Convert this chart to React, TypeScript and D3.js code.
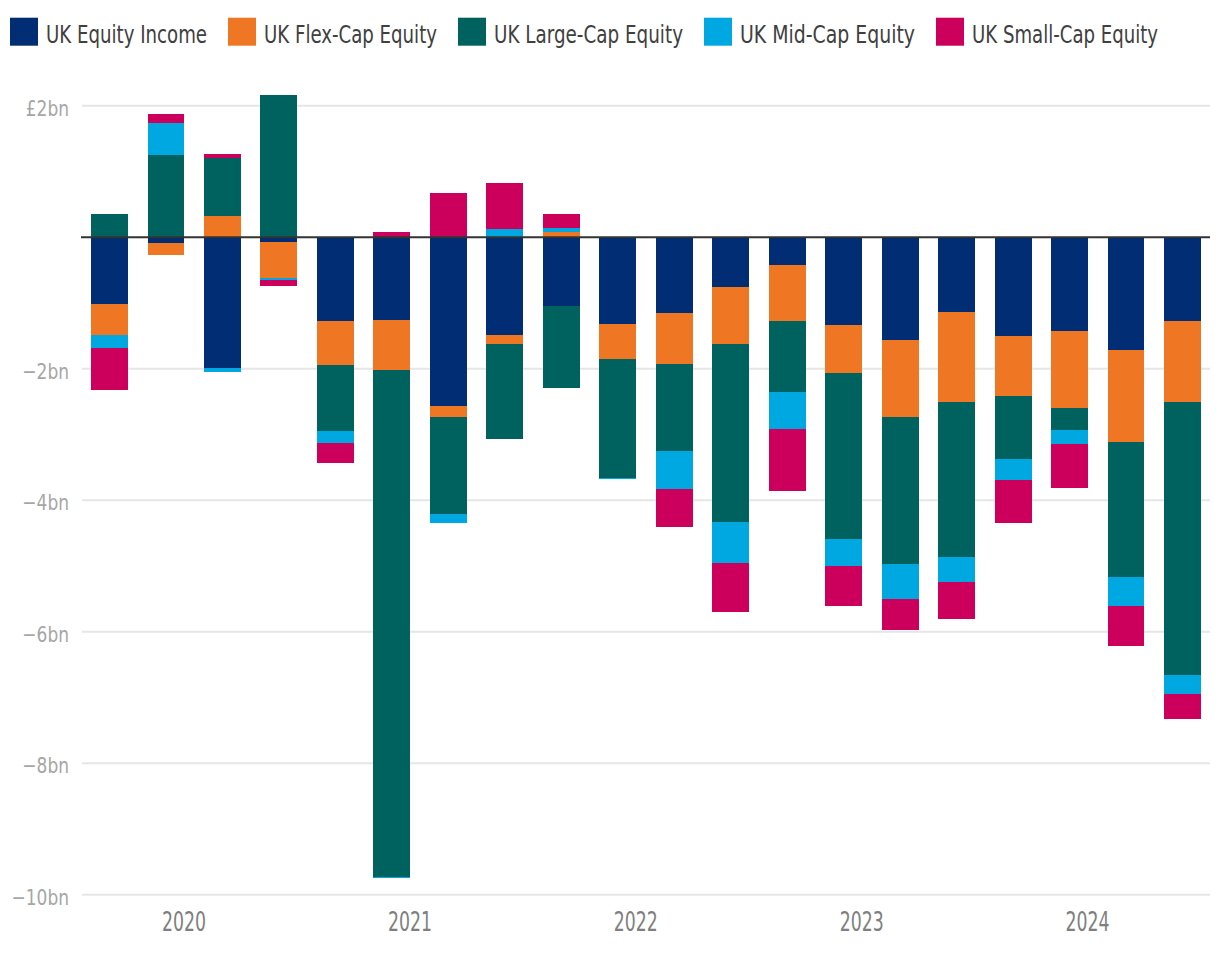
import React, { useEffect, useRef } from "react";
import * as d3 from "d3";

const quarters = [
  "2020 Q1", "2020 Q2", "2020 Q3", "2020 Q4",
  "2021 Q1", "2021 Q2", "2021 Q3", "2021 Q4",
  "2022 Q1", "2022 Q2", "2022 Q3", "2022 Q4",
  "2023 Q1", "2023 Q2", "2023 Q3", "2023 Q4",
  "2024 Q1", "2024 Q2", "2024 Q3", "2024 Q4",
];
const years = ["2020", "2021", "2022", "2023", "2024"];

const seriesNames = [
  "UK Equity Income",
  "UK Flex-Cap Equity",
  "UK Large-Cap Equity",
  "UK Mid-Cap Equity",
  "UK Small-Cap Equity",
];
const seriesColors = ["#002d73", "#ef7724", "#00625e", "#00a8e1", "#cc005c"];

// £bn estimated flows
const equityIncome = [-1.01, -0.09, -1.99, -0.08, -1.27, -1.255, -2.573, -1.48, -1.04, -1.315, -1.147, -0.75, -0.43, -1.33, -1.558, -1.145, -1.497, -1.422, -1.71, -1.268];
const flexCap = [-0.47, -0.18, 0.315, -0.54, -0.67, -0.76, -0.167, -0.137, 0.086, -0.53, -0.777, -0.868, -0.838, -0.731, -1.173, -1.369, -0.911, -1.183, -1.412, -1.231];
const largeCap = [0.36, 1.245, 0.89, 2.16, -1.003, -7.716, -1.474, -1.459, -1.261, -1.81, -1.325, -2.71, -1.08, -2.528, -2.238, -2.355, -0.959, -0.32, -2.051, -4.161];
const midCap = [-0.2, 0.49, -0.06, -0.035, -0.182, -0.015, -0.137, 0.13, 0.05, -0.015, -0.579, -0.624, -0.563, -0.411, -0.533, -0.378, -0.33, -0.213, -0.437, -0.288];
const smallCap = [-0.64, 0.14, 0.056, -0.09, -0.304, 0.086, 0.665, 0.69, 0.21, 0, -0.579, -0.746, -0.944, -0.609, -0.472, -0.565, -0.655, -0.682, -0.613, -0.384];

const yTicks = [2, -2, -4, -6, -8, -10];
const yTickLabels = ["£2bn", "\u22122bn", "\u22124bn", "\u22126bn", "\u22128bn", "\u221210bn"];

// rendered widths of legend labels (condensed typeface look)
const legendTextWidths = [161, 173, 189, 175, 186];

const FONT = "'DejaVu Sans Condensed', 'DejaVu Sans', sans-serif";

export default function App() {
  const ref = useRef<SVGSVGElement | null>(null);

  useEffect(() => {
    const svg = d3.select(ref.current);
    svg.selectAll("*").remove();

    const left = 82;
    const right = 1210;

    const rows = quarters.map((q, i) => ({
      q,
      s0: equityIncome[i],
      s1: flexCap[i],
      s2: largeCap[i],
      s3: midCap[i],
      s4: smallCap[i],
    }));
    const keys = ["s0", "s1", "s2", "s3", "s4"];

    const x = d3.scaleBand<string>().domain(quarters).range([left, right]).paddingInner(0.345).paddingOuter(0.16);
    const y = d3.scaleLinear().domain([-10, 2]).range([894.7, 105.7]);

    // gridlines
    const g = svg.append("g");
    g.selectAll("line.grid")
      .data(yTicks)
      .enter()
      .append("line")
      .attr("x1", left)
      .attr("x2", right)
      .attr("y1", (d) => y(d))
      .attr("y2", (d) => y(d))
      .attr("stroke", "#e6e6e6")
      .attr("stroke-width", 2);

    g.selectAll("text.ylab")
      .data(yTicks)
      .enter()
      .append("text")
      .attr("x", 69)
      .attr("y", (d) => y(d) + 10)
      .attr("text-anchor", "end")
      .attr("font-family", FONT)
      .attr("font-size", 21)
      .attr("fill", "#a6a6a6")
      .text((d, i) => yTickLabels[i])
      .each(function () {
        const el = this as SVGTextElement;
        const len = el.getComputedTextLength();
        el.setAttribute("textLength", String(len * 0.9));
        el.setAttribute("lengthAdjust", "spacingAndGlyphs");
      });

    // bars
    const stacked = d3.stack<any>().keys(keys).offset(d3.stackOffsetDiverging)(rows);
    const bw = x.bandwidth();
    stacked.forEach((layer, li) => {
      svg
        .append("g")
        .attr("fill", seriesColors[li])
        .selectAll("rect")
        .data(layer)
        .enter()
        .append("rect")
        .attr("x", (d: any) => x(d.data.q) as number)
        .attr("width", bw)
        .attr("y", (d: any) => y(Math.max(d[0], d[1])))
        .attr("height", (d: any) => Math.abs(y(d[0]) - y(d[1])))
        .attr("shape-rendering", "crispEdges");
    });

    // zero line
    svg
      .append("line")
      .attr("x1", left - 1)
      .attr("x2", right)
      .attr("y1", y(0))
      .attr("y2", y(0))
      .attr("stroke", "#333333")
      .attr("stroke-width", 2);

    // year labels
    const step = x.step();
    svg
      .selectAll("text.year")
      .data(years)
      .enter()
      .append("text")
      .attr("x", (d, i) => {
        const a = x(quarters[i * 4]) as number;
        const b = (x(quarters[i * 4 + 3]) as number) + bw;
        return (a + b) / 2 - 0.18 * step;
      })
      .attr("y", 931)
      .attr("text-anchor", "middle")
      .attr("font-family", FONT)
      .attr("font-size", 26)
      .attr("fill", "#7f7f7f")
      .attr("textLength", 44)
      .attr("lengthAdjust", "spacingAndGlyphs")
      .text((d) => d);

    // legend
    const lg = svg.append("g");
    let cx = 10;
    seriesNames.forEach((name, i) => {
      lg.append("rect").attr("x", cx).attr("y", 17.7).attr("width", 28).attr("height", 28).attr("fill", seriesColors[i]);
      lg.append("text")
        .attr("x", cx + 36)
        .attr("y", 42.7)
        .attr("font-family", FONT)
        .attr("font-size", 24)
        .attr("fill", "#404040")
        .attr("textLength", legendTextWidths[i])
        .attr("lengthAdjust", "spacingAndGlyphs")
        .text(name);
      cx = cx + 36 + legendTextWidths[i] + 21;
    });
  }, []);

  return (
    <svg
      ref={ref}
      width={1220}
      height={956}
      style={{ position: "absolute", left: 0, top: 0, background: "#fff" }}
    />
  );
}
